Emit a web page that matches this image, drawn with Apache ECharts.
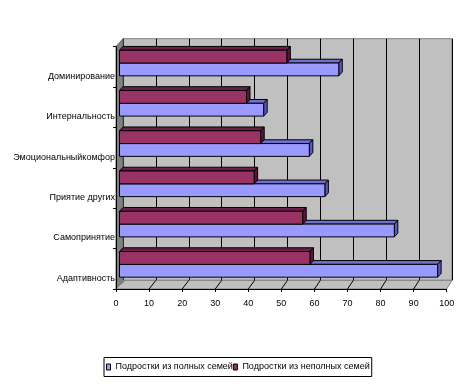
<!DOCTYPE html>
<html>
<head>
<meta charset="utf-8">
<script src="https://cdn.jsdelivr.net/npm/echarts@6/dist/echarts.min.js"></script>
<style>
html,body{margin:0;padding:0;background:#fff;}
#chart{width:466px;height:386px;}
</style>
</head>
<body>
<div id="chart"></div>
<script>
// ---- data ----
const categories = ['Адаптивность', 'Самопринятие', 'Приятие других', 'Эмоциональныйкомфор', 'Интернальность', 'Доминирование'];
const seriesNames = ['Подростки из полных семей', 'Подростки из неполных семей'];
const fullFamilies = [96.2, 83.1, 62.1, 57.4, 43.6, 66.3];
const incompleteFamilies = [57.6, 55.4, 40.7, 42.7, 38.4, 50.6];
const xMin = 0, xMax = 100, xInterval = 10;

// ---- layout ----
const FONT = '"Liberation Sans", Arial, sans-serif';
const FRONT = {left: 116, top: 46.7, width: 330.7, height: 242.3};
const BACK = {left: 123, top: 38.7, width: 329, height: 241.6};
const BARS = {left: 119.5, top: 42.9, width: 330.7, height: 241.6};
const DX = 3.5, DY = 3.8;

const chart = echarts.init(document.getElementById('chart'), null, {renderer: 'canvas'});

function bar3d(side, front, topC, sideC) {
  return function (params, api) {
    const v = api.value(0), i = api.value(1);
    const base = api.coord([0, i]);
    const end = api.coord([v, i]);
    const band = api.size([0, 1])[1];
    const h = band * 0.318;
    const cy = base[1];
    const y0 = side < 0 ? cy - h : cy;
    const y1 = y0 + h;
    const x0 = base[0], x1 = end[0];
    const st = {stroke: '#000', lineWidth: 1};
    return {
      type: 'group',
      children: [
        {type: 'polygon', shape: {points: [[x0, y0], [x0 + DX, y0 - DY], [x1 + DX, y0 - DY], [x1, y0]]},
         style: Object.assign({fill: topC}, st)},
        {type: 'polygon', shape: {points: [[x1, y0], [x1 + DX, y0 - DY], [x1 + DX, y1 - DY], [x1, y1]]},
         style: Object.assign({fill: sideC}, st)},
        {type: 'rect', shape: {x: x0, y: y0, width: x1 - x0, height: h},
         style: Object.assign({fill: front}, st)}
      ]
    };
  };
}

const xAxisBase = {type: 'value', min: xMin, max: xMax, interval: xInterval};
const gridBase = {containLabel: false, outerBoundsMode: 'none'};

const option = {
  backgroundColor: '#ffffff',
  animation: false,
  textStyle: {fontFamily: FONT},
  grid: [
    Object.assign({show: true, backgroundColor: '#c0c0c0', borderColor: '#808080', borderWidth: 1}, gridBase, BACK),
    Object.assign({}, gridBase, FRONT),
    Object.assign({}, gridBase, BARS)
  ],
  xAxis: [
    Object.assign({gridIndex: 0, axisLine: {show: false}, axisTick: {show: false}, axisLabel: {show: false},
      splitLine: {show: true, lineStyle: {color: '#000', width: 1}}}, xAxisBase),
    Object.assign({gridIndex: 1, z: 5,
      axisLine: {show: true, lineStyle: {color: '#000', width: 1}},
      axisTick: {show: true, length: 3, lineStyle: {color: '#000'}},
      axisLabel: {show: true, color: '#000', fontSize: 9, fontFamily: FONT, margin: 10},
      splitLine: {show: false}}, xAxisBase),
    Object.assign({gridIndex: 2, show: false, splitLine: {show: false}}, xAxisBase)
  ],
  yAxis: [
    {type: 'category', gridIndex: 0, data: categories, show: false},
    {type: 'category', gridIndex: 1, data: categories, z: 5,
      axisLine: {show: true, lineStyle: {color: '#000', width: 1}},
      axisTick: {show: true, length: 3, lineStyle: {color: '#000'}},
      axisLabel: {show: true, color: '#000', fontSize: 9, fontFamily: FONT, margin: 1,
        verticalAlign: 'top', lineHeight: 19},
      splitLine: {show: false}},
    {type: 'category', gridIndex: 2, data: categories, show: false}
  ],
  legend: {
    data: seriesNames,
    left: 104, top: 357.5,
    orient: 'horizontal',
    icon: 'rect',
    itemWidth: 4, itemHeight: 6, itemGap: 0,
    padding: [5, 2, 5, 2],
    borderColor: '#000', borderWidth: 1,
    backgroundColor: '#fff',
    textStyle: {fontSize: 9, fontFamily: FONT, color: '#000'},
    itemStyle: {borderColor: '#000', borderWidth: 1}
  },
  series: [
    {
      name: seriesNames[0], type: 'custom', xAxisIndex: 2, yAxisIndex: 2, z: 3,
      itemStyle: {color: '#9999ff', borderColor: '#000', borderWidth: 1},
      encode: {x: 0, y: 1},
      data: fullFamilies.map((v, i) => [v, i]),
      renderItem: bar3d(1, '#9999ff', '#6f6fd0', '#5c5cb8')
    },
    {
      name: seriesNames[1], type: 'custom', xAxisIndex: 2, yAxisIndex: 2, z: 3,
      itemStyle: {color: '#993366', borderColor: '#000', borderWidth: 1},
      encode: {x: 0, y: 1},
      data: incompleteFamilies.map((v, i) => [v, i]),
      renderItem: bar3d(-1, '#993366', '#6b1f47', '#5a1838')
    }
  ]
};
chart.setOption(option);

// 3D walls (left wall + floor) derived from the axis scales
const fb = FRONT.top + FRONT.height;  // front floor edge
const bb = BACK.top + BACK.height;    // back floor edge
const graphics = [];
graphics.push({type: 'polygon', z: 1, silent: true,
  shape: {points: [[FRONT.left, FRONT.top], [BACK.left, BACK.top], [BACK.left, bb], [FRONT.left, fb]]},
  style: {fill: '#808080', stroke: '#606060', lineWidth: 1}});
const f0 = chart.convertToPixel({xAxisIndex: 1}, xMin), f1 = chart.convertToPixel({xAxisIndex: 1}, xMax);
const b0 = chart.convertToPixel({xAxisIndex: 0}, xMin), b1 = chart.convertToPixel({xAxisIndex: 0}, xMax);
graphics.push({type: 'polygon', z: 1, silent: true,
  shape: {points: [[f0, fb], [b0, bb], [b1, bb], [f1, fb]]},
  style: {fill: '#c0c0c0', stroke: '#808080', lineWidth: 1}});
graphics.push({type: 'polygon', z: 1, silent: true,
  shape: {points: [[f0, fb], [b0, bb], [b0 + 3, bb]]},
  style: {fill: '#808080'}});
for (let v = xMin + xInterval; v < xMax; v += xInterval) {
  const fx = chart.convertToPixel({xAxisIndex: 1}, v);
  const bx = chart.convertToPixel({xAxisIndex: 0}, v);
  graphics.push({type: 'line', z: 1, silent: true,
    shape: {x1: fx, y1: fb, x2: bx, y2: bb}, style: {stroke: '#000', lineWidth: 1}});
}
chart.setOption({graphic: graphics});
</script>
</body>
</html>
